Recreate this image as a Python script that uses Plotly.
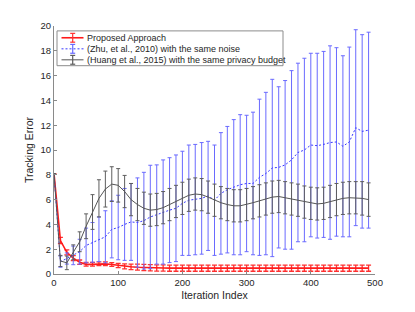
import plotly.graph_objects as go

iterations = list(range(0, 500, 10))

proposed_mean = [8.1, 2.7, 1.75, 1.28, 0.95, 0.78, 0.78, 0.82, 0.82, 0.77,
                 0.69, 0.61, 0.58, 0.55, 0.52, 0.5, 0.48, 0.48, 0.47, 0.47,
                 0.47, 0.47, 0.47, 0.47, 0.47, 0.47, 0.47, 0.47, 0.47, 0.47,
                 0.47, 0.47, 0.47, 0.47, 0.47, 0.47, 0.47, 0.47, 0.47, 0.47,
                 0.47, 0.47, 0.47, 0.47, 0.47, 0.47, 0.47, 0.47, 0.47, 0.47]
proposed_err = [0.0, 0.25, 0.2, 0.2, 0.18, 0.15, 0.15, 0.15, 0.15, 0.15,
                0.17, 0.2, 0.22, 0.24, 0.25, 0.25, 0.25, 0.25, 0.25, 0.25,
                0.25, 0.25, 0.25, 0.25, 0.25, 0.25, 0.25, 0.25, 0.25, 0.25,
                0.25, 0.25, 0.25, 0.25, 0.25, 0.25, 0.25, 0.25, 0.25, 0.25,
                0.25, 0.25, 0.25, 0.25, 0.25, 0.25, 0.25, 0.25, 0.25, 0.25]

zhu_mean = [8.1, 1.0, 1.25, 1.5, 1.8, 2.3, 2.55, 2.8, 3.0, 3.6,
            3.75, 4.0, 4.2, 4.15, 4.3, 4.6, 4.8, 5.0, 5.15, 5.3,
            5.7, 5.95, 6.0, 6.1, 6.3, 5.95, 6.5, 6.8, 7.0, 7.2,
            7.3, 7.3, 7.8, 8.1, 8.55, 8.6, 8.8, 9.2, 9.8, 10.0,
            10.4, 10.35, 10.45, 10.6, 10.65, 10.3, 10.65, 11.8, 11.5, 11.6]
zhu_err = [0.0, 0.45, 0.45, 0.75, 1.0, 1.4, 1.6, 1.8, 2.1, 2.3,
           2.6, 2.9, 3.1, 3.6, 3.9, 4.17, 4.0, 4.2, 4.23, 4.3,
           4.2, 4.45, 4.45, 4.5, 4.4, 4.45, 4.9, 5.1, 5.45, 5.65,
           5.5, 5.75, 6.3, 6.55, 7.15, 6.5, 6.8, 7.2, 7.2, 7.4,
           7.4, 7.45, 7.5, 7.8, 7.6, 7.3, 7.65, 7.9, 7.8, 7.9]

huang_mean = [8.1, 1.05, 0.9, 1.75, 2.6, 3.85, 5.0, 6.1, 6.85, 7.25,
              7.15, 6.65, 6.0, 5.6, 5.3, 5.15, 5.2, 5.35, 5.6, 5.85,
              6.1, 6.35, 6.45, 6.4, 6.2, 5.95, 5.75, 5.6, 5.5, 5.5,
              5.6, 5.75, 5.9, 6.05, 6.2, 6.25, 6.15, 6.05, 5.95, 5.8,
              5.7, 5.65, 5.7, 5.85, 6.0, 6.1, 6.15, 6.15, 6.1, 6.0]
huang_err = [0.0, 0.45, 0.55, 0.6, 0.8, 1.0, 1.4, 1.5, 1.45, 1.4,
             1.35, 1.3, 1.3, 1.3, 1.3, 1.3, 1.3, 1.3, 1.3, 1.3,
             1.3, 1.3, 1.3, 1.3, 1.3, 1.3, 1.3, 1.3, 1.3, 1.3,
             1.3, 1.3, 1.3, 1.3, 1.3, 1.3, 1.3, 1.3, 1.3, 1.3,
             1.3, 1.3, 1.3, 1.3, 1.3, 1.3, 1.3, 1.3, 1.35, 1.35]

legend_labels = ["Proposed Approach",
                 "(Zhu, et al., 2010) with the same noise",
                 "(Huang et al., 2015) with the same privacy budget"]
x_ticks = [0, 100, 200, 300, 400, 500]
y_ticks = [0, 2, 4, 6, 8, 10, 12, 14, 16, 18, 20]

FONT = "Liberation Sans, Arial, sans-serif"
RED, BLUE, BLACK = "#ff1a1a", "#3838ff", "#555555"
RED_E, BLUE_E, BLACK_E = "#ff3030", "#6a6aff", "#5e5e5e"
BLUE_DASH = "2px,2px"

fig = go.Figure()
fig.add_trace(go.Scatter(
    x=iterations, y=proposed_mean, mode="lines", name=legend_labels[0],
    line=dict(color=RED, width=1.6),
    error_y=dict(type="data", array=proposed_err, color=RED_E, thickness=1.3, width=2.5),
    showlegend=False))
fig.add_trace(go.Scatter(
    x=iterations, y=zhu_mean, mode="lines", name=legend_labels[1],
    line=dict(color=BLUE, width=1, dash=BLUE_DASH),
    error_y=dict(type="data", array=zhu_err, color=BLUE_E, thickness=1, width=2),
    showlegend=False))
fig.add_trace(go.Scatter(
    x=iterations, y=huang_mean, mode="lines", name=legend_labels[2],
    line=dict(color=BLACK, width=1),
    error_y=dict(type="data", array=huang_err, color=BLACK_E, thickness=1, width=2),
    showlegend=False))

# The page body adds an 8px offset; target pixel positions are in window coordinates.
OFF = 8
W, H = 415 - OFF, 312 - OFF
L, R, T, B = 54 - OFF, 375 - OFF, 24 - OFF, 277 - OFF

def px(xp):
    return (xp - OFF - L) / (R - L)

def py(yp):
    return (B - (yp - OFF)) / (B - T)

shapes = [dict(type="rect", xref="paper", yref="paper",
               x0=px(57), x1=px(283), y0=py(64.5), y1=py(29),
               line=dict(color="#8c8c8c", width=1), fillcolor="white", layer="above")]
rows = [36, 47.3, 58.5]
styles = [(RED, 1.6, "solid", RED_E), (BLUE, 1, BLUE_DASH, BLUE_E), (BLACK, 1, "solid", BLACK_E)]
annotations = []
for label, yr, (c, w, d, ce) in zip(legend_labels, rows, styles):
    shapes.append(dict(type="line", xref="paper", yref="paper",
                       x0=px(61.5), x1=px(83.5), y0=py(yr), y1=py(yr),
                       line=dict(color=c, width=w, dash=d), layer="above"))
    shapes.append(dict(type="line", xref="paper", yref="paper",
                       x0=px(72.7), x1=px(72.7), y0=py(yr - 4.5), y1=py(yr + 4.5),
                       line=dict(color=ce, width=1.2), layer="above"))
    for yy in (yr - 4.5, yr + 4.5):
        shapes.append(dict(type="line", xref="paper", yref="paper",
                           x0=px(70.2), x1=px(75.2), y0=py(yy), y1=py(yy),
                           line=dict(color=ce, width=1.2), layer="above"))
    annotations.append(dict(text=label, xref="paper", yref="paper",
                            x=px(85), y=py(yr), xanchor="left", yanchor="middle",
                            showarrow=False, font=dict(family=FONT, size=9, color="#262626")))

axis_common = dict(showline=True, linecolor="#8a8a8a", linewidth=1, mirror=False,
                   ticks="inside", ticklen=3, tickcolor="#8a8a8a", showgrid=False,
                   zeroline=False, tickfont=dict(family=FONT, size=9.5, color="#262626"))

fig.update_layout(
    width=W, height=H,
    margin=dict(l=L, r=W - R, t=T, b=H - B),
    paper_bgcolor="white", plot_bgcolor="white",
    shapes=shapes, annotations=annotations,
    xaxis=dict(range=[0, 500], tickvals=x_ticks, **axis_common,
               title=dict(text="Iteration Index", standoff=4,
                          font=dict(family=FONT, size=10.5, color="#262626"))),
    yaxis=dict(range=[0, 20], tickvals=y_ticks, **axis_common,
               title=dict(text="Tracking Error", standoff=4,
                          font=dict(family=FONT, size=10.5, color="#262626"))),
    showlegend=False,
)

fig.write_html("out.html")
